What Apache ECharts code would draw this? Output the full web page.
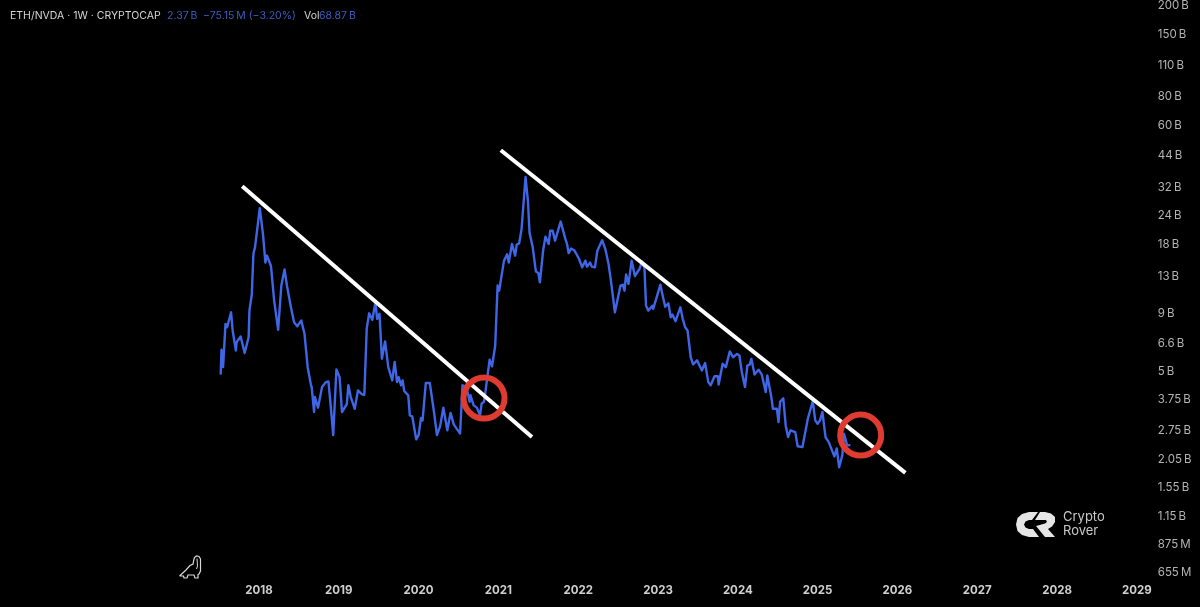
<!DOCTYPE html>
<html>
<head>
<meta charset="utf-8">
<style>html,body{margin:0;padding:0;background:#000}#c{width:1200px;height:607px}</style>
<script src="https://cdn.jsdelivr.net/npm/echarts@6/dist/echarts.min.js"></script>
</head>
<body>
<div id="c"></div>
<script>
const xTickLabels = [2018,2019,2020,2021,2022,2023,2024,2025,2026,2027,2028,2029];
const yTickValues = [200,150,110,80,60,44,32,24,18,13,9,6.6,5,3.75,2.75,2.05,1.55,1.15,0.875,0.655];
const yTickLabels = ['200\u2009B','150\u2009B','110\u2009B','80\u2009B','60\u2009B','44\u2009B','32\u2009B','24\u2009B','18\u2009B','13\u2009B','9\u2009B','6.6\u2009B','5\u2009B','3.75\u2009B','2.75\u2009B','2.05\u2009B','1.55\u2009B','1.15\u2009B','875\u2009M','655\u2009M'];

const priceYears = [2017.52,2017.53,2017.55,2017.58,2017.60,2017.65,2017.67,2017.71,2017.72,2017.77,2017.82,2017.87,2017.88,2017.91,2017.93,2017.95,2017.97,
2018.01,2018.03,2018.05,2018.08,2018.10,2018.15,2018.19,2018.24,2018.28,2018.32,2018.35,2018.40,2018.44,2018.48,2018.53,2018.57,2018.61,2018.65,2018.66,2018.69,2018.70,2018.74,2018.79,2018.84,2018.87,2018.90,2018.93,2018.97,
2019.01,2019.04,2019.10,2019.12,2019.15,2019.17,2019.20,2019.22,2019.24,2019.29,2019.32,2019.35,2019.38,2019.42,2019.46,2019.48,2019.51,2019.54,2019.58,2019.62,2019.67,2019.70,2019.73,2019.75,2019.78,2019.80,2019.82,2019.87,2019.89,2019.92,2019.97,
2020.00,2020.03,2020.05,2020.09,2020.14,2020.19,2020.23,2020.27,2020.31,2020.36,2020.40,2020.44,2020.52,2020.55,2020.60,2020.64,2020.65,2020.69,2020.73,2020.77,2020.79,2020.82,2020.84,2020.89,2020.92,2020.96,2020.99,
2021.01,2021.07,2021.11,2021.13,2021.17,2021.21,2021.23,2021.26,2021.29,2021.34,2021.37,2021.39,2021.43,2021.47,2021.50,2021.52,2021.56,2021.59,2021.63,2021.65,2021.68,2021.71,2021.78,2021.84,2021.86,2021.88,2021.91,2021.95,
2022.01,2022.05,2022.09,2022.11,2022.15,2022.17,2022.21,2022.24,2022.30,2022.34,2022.38,2022.41,2022.46,2022.48,2022.53,2022.56,2022.58,2022.60,2022.63,2022.67,2022.69,2022.71,2022.77,2022.80,2022.83,2022.85,2022.88,2022.93,2022.94,
2023.03,2023.05,2023.09,2023.13,2023.16,2023.18,2023.22,2023.28,2023.31,2023.34,2023.37,2023.41,2023.44,2023.49,2023.55,2023.59,2023.61,2023.63,2023.66,2023.71,2023.75,2023.76,2023.81,2023.85,2023.90,2023.94,2023.99,
2024.02,2024.05,2024.09,2024.12,2024.15,2024.17,2024.21,2024.26,2024.30,2024.35,2024.37,2024.42,2024.44,2024.49,2024.51,2024.53,2024.57,2024.60,2024.63,2024.66,2024.72,2024.75,2024.81,2024.88,2024.94,2024.97,
2025.00,2025.03,2025.06,2025.10,2025.14,2025.21,2025.24,2025.27,2025.31,2025.33,2025.37,2025.41];
const priceBillions = [4.85,6.22,5.22,8.08,7.81,9.08,7.56,6.18,6.72,7.11,6.02,7.06,9.24,10.9,16.4,17.5,17.2,
26.0,25.7,20.0,15.0,16.1,14.5,10.22,7.61,11.9,14.0,11.9,9.55,8.22,7.88,8.36,7.31,5.22,4.38,4.27,3.32,3.86,3.47,4.27,4.49,4.52,3.49,2.63,5.10,
4.72,3.32,3.59,4.35,3.86,3.93,3.43,3.47,4.13,3.97,3.95,7.70,8.99,8.42,10.05,8.50,8.95,5.68,6.77,5.22,4.57,5.50,4.49,4.72,4.35,4.57,4.10,3.93,3.21,3.18,2.52,
2.63,3.13,3.05,4.45,4.45,3.38,2.63,2.88,3.47,2.76,3.29,2.93,2.67,4.35,4.25,3.68,3.93,3.55,3.47,3.21,3.62,3.68,4.13,5.63,5.26,6.48,11.9,
11.3,15.3,16.3,15.0,18.1,16.1,18.0,18.2,21.0,35.6,28.0,20.3,17.5,13.7,13.5,12.3,16.9,19.5,18.1,20.7,20.7,18.7,22.7,19.0,18.1,16.5,17.3,17.0,
15.6,14.3,15.3,14.4,15.0,14.4,14.3,16.9,18.8,17.2,14.8,12.5,9.08,9.00,11.9,12.0,11.3,13.3,12.1,15.3,15.4,13.1,14.1,15.2,14.2,9.70,9.24,9.70,9.40,
12.0,11.1,9.61,9.94,8.64,8.88,8.30,9.55,8.50,7.81,7.56,5.77,5.37,5.59,5.05,5.44,5.44,4.49,4.35,4.77,4.76,4.38,5.40,5.22,6.12,5.77,5.97,
5.87,4.97,4.27,5.31,5.37,5.68,4.85,5.09,4.85,4.06,4.80,3.86,3.43,3.43,3.00,3.68,3.81,2.90,2.58,2.76,2.71,2.35,2.33,3.13,3.70,3.05,
2.95,3.05,3.32,2.57,2.45,2.12,2.30,1.90,2.15,2.67,2.38,2.37];

const trendOneYears = [2017.79,2021.42];
const trendOneValues = [32.4,2.58];
const trendTwoYears = [2021.03,2026.10];
const trendTwoValues = [46.6,1.795];
const ringYears = [2020.82,2025.54];
const ringValues = [3.82,2.63];

const zip = (a,b) => a.map((v,i)=>[v,b[i]]);
const FONT = 'Inter, "Noto Sans", sans-serif';
const chart = echarts.init(document.getElementById('c'), null, {renderer:'canvas'});
const headText = (x,text,fill) => ({type:'text',x:x,y:10,silent:true,style:{text:text,fill:fill,font:'10.5px '+FONT}});
const polygonC = [[1038,512],[1029,512],[1022,514],[1017.5,518],[1016,524.5],[1017.5,531],[1022,535],[1029,537],[1039,537],[1033,529],[1029,529],[1025.5,527.5],[1024,524.5],[1025.5,521.5],[1029,520],[1032,520]];
const polygonR = [[1040,512],[1045,512],[1051,513.5],[1055,517],[1055,522],[1052,526.5],[1048,529],[1055,537],[1045,537],[1036,526],[1045,523.5],[1047,522],[1046,520],[1035,520]];
const dinoOutline = [[179.5,576],[186,570],[190,565.5],[193,564],[193.8,560],[194.5,557.5],[196.5,556],[199,556.5],[200.5,559],[200.5,571],[199,574],[198,574.5],[198,578],[195,578],[194,575],[188,575],[187,578],[184,578],[183.5,576],[179.5,576]];
const dinoNeck = [[197,558.5],[197.5,566],[196.5,569]];
chart.setOption({
  animation:false,
  backgroundColor:'#000',
  grid:{left:19.6,right:43.25,top:0,bottom:27},
  xAxis:{type:'value',min:2015,max:2029.25,interval:1,
    axisLine:{show:false},axisTick:{show:false},splitLine:{show:false},
    axisLabel:{customValues:xTickLabels,color:'#cfcfcf',fontFamily:FONT,fontSize:11.5,fontWeight:700,margin:5,
      formatter:v=>String(Math.round(v))}},
  yAxis:{type:'log',logBase:10,position:'right',min:0.609,max:209.5,
    axisLine:{show:false},axisTick:{show:false},splitLine:{show:false},
    axisLabel:{customValues:yTickValues,color:'#b4b4b4',fontFamily:FONT,fontSize:11.5,margin:1,align:'left',showMinLabel:true,showMaxLabel:true,
      formatter:function(v){
        let best=0;yTickValues.forEach((t,i)=>{if(Math.abs(Math.log(t/v))<Math.abs(Math.log(yTickValues[best]/v)))best=i;});
        return yTickLabels[best];
      }}},
  series:[
    {type:'line',data:zip(priceYears,priceBillions),showSymbol:false,symbol:'none',lineStyle:{color:'#3f66e6',width:2.4,join:'round'},z:2},
    {type:'line',data:zip(trendOneYears,trendOneValues),showSymbol:false,symbol:'none',lineStyle:{color:'#fff',width:4},z:3},
    {type:'line',data:zip(trendTwoYears,trendTwoValues),showSymbol:false,symbol:'none',lineStyle:{color:'#fff',width:4},z:3},
    {type:'scatter',data:zip(ringYears,ringValues),symbol:'circle',symbolSize:41,itemStyle:{color:'rgba(0,0,0,0)',borderColor:'#df3b30',borderWidth:6,opacity:1},z:4}
  ],
  graphic:[
    headText(10,'ETH/NVDA · 1W · CRYPTOCAP','#d4d4d4'),
    headText(167,'2.37\u2009B','#3d5cc0'),
    headText(203,'−75.15\u2009M (−3.20%)','#3d5cc0'),
    headText(304,'Vol','#d4d4d4'),
    headText(319,'68.87\u2009B','#3d5cc0'),
    {type:'text',x:1063,y:511,silent:true,style:{text:'Crypto',fill:'#c8c8c8',font:'13px '+FONT}},
    {type:'text',x:1063,y:525,silent:true,style:{text:'Rover',fill:'#c8c8c8',font:'13px '+FONT}},
    {type:'polygon',silent:true,shape:{points:polygonC},style:{fill:'#e6e6e6'}},
    {type:'polygon',silent:true,shape:{points:polygonR},style:{fill:'#e6e6e6'}},
    {type:'polyline',silent:true,shape:{points:dinoOutline},style:{fill:'none',stroke:'#d8d8d8',lineWidth:1.2}},
    {type:'polyline',silent:true,shape:{points:dinoNeck},style:{fill:'none',stroke:'#d8d8d8',lineWidth:1}}
  ]
});
</script>
</body>
</html>
